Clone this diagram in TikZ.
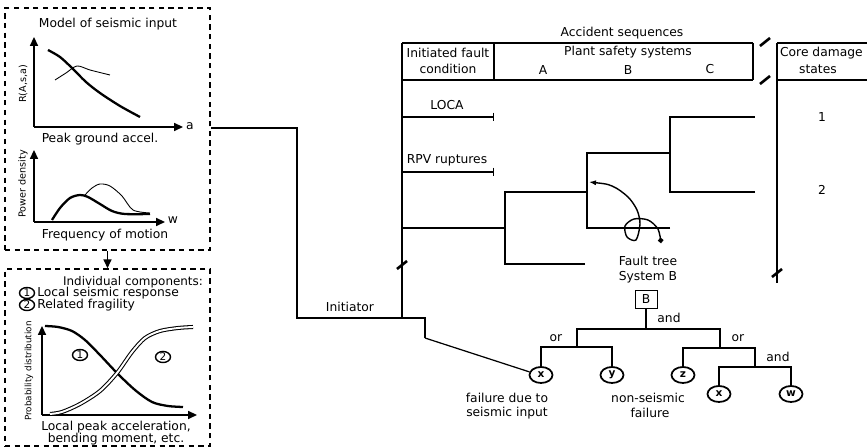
\documentclass[tikz,border=0pt]{standalone}
\usepackage{fontspec}
\setmainfont{DejaVu Sans}
\usetikzlibrary{arrows.meta,shapes.geometric}
\tikzset{brkmark/.pic={\draw[line width=1.5pt] (-5,4) -- (5,-4);}}
\begin{document}
\begin{tikzpicture}[x=0.02cm,y=-0.02cm,
    every node/.style={font=\fontsize{7}{8}\selectfont,inner sep=1pt},
    dbox/.style={draw,dash pattern=on 3pt off 2.5pt,line width=0.9pt,inner sep=0pt},
    axis/.style={line width=0.9pt,-{Triangle[length=5pt,width=4.5pt]}},
    resp/.style={line width=1.3pt},
    alt/.style={line width=0.5pt},
    ylab/.style={rotate=90,font=\fontsize{5.5}{6}\selectfont},
    num/.style={draw,ellipse,line width=0.8pt,inner sep=0pt,
        minimum width=0.3cm,minimum height=0.22cm,font=\fontsize{6}{6}\selectfont},
    evt/.style={draw,ellipse,line width=1pt,minimum width=0.46cm,
        minimum height=0.32cm,inner sep=0pt,font=\fontsize{6}{6}\selectfont\bfseries},
    gate/.style={draw,minimum width=0.44cm,minimum height=0.36cm,inner sep=0pt},
    tbl/.style={line width=0.7pt},
    tree/.style={line width=0.8pt}
]
    \useasboundingbox (0,0) rectangle (867,448);

    % seismic input box
    \node[dbox,minimum width=4.1cm,minimum height=4.84cm] (inbox) at (107.5,129) {};
    \node[dbox,minimum width=4.1cm,minimum height=3.54cm] (fragbox) at (107.5,357.5) {};
    \draw[line width=0.9pt,-{Triangle[length=5pt,width=4.5pt]}] (inbox.south) -- (fragbox.north);

    \node (tmodel) at (108,24) {Model of seismic input};
    \coordinate (o1) at (34,127);
    \draw[axis] (o1) -- (34,37);
    \draw[axis] (o1) -- (183,127);
    \node (la) at (190,126) {a};
    \node[ylab] (lr) at (23,84) {R(A,s,a)};
    \draw[resp] plot[smooth] coordinates {(48,50) (60,57) (72,68) (86,82) (100,93) (120,106) (140,117)};
    \draw[alt] plot[smooth] coordinates {(55,80) (66,73) (77,66) (90,70) (110,75)};
    \node (tpga) at (100,139) {Peak ground accel.};

    \coordinate (o2) at (34,222);
    \draw[axis] (o2) -- (34,150);
    \draw[axis] (o2) -- (165,222);
    \node (lw) at (173,220) {w};
    \node[ylab] (lp) at (23,184) {Power density};
    \draw[resp] plot[smooth] coordinates {(52,220) (60,208) (70,198) (80,195) (88,197) (100,204) (112,211) (125,214) (150,214)};
    \draw[alt] plot[smooth] coordinates {(85,195) (92,188) (100,184) (110,186) (122,196) (133,210) (150,213)};
    \node (tfreq) at (105,235) {Frequency of motion};

    % fragility box
    \node[font=\fontsize{6.8}{8}\selectfont] (tind) at (133,282) {Individual components:};
    \node[num] (c1) at (27,293) {1};
    \node[num] (c2) at (27,305) {2};
    \node[anchor=west] (tloc) at (c1.east) {Local seismic response};
    \node[anchor=west] (trel) at (c2.east) {Related fragility};
    \coordinate (o3) at (42,415);
    \draw[axis] (o3) -- (42,326);
    \draw[axis] (o3) -- (197,415);
    \node[ylab,font=\fontsize{5}{6}\selectfont] (lpd) at (29,371) {Probability distribution};
    \draw[resp] plot[smooth] coordinates {(45,326) (58,327) (72,331) (85,340) (100,355) (117,373) (135,390) (152,402) (168,406) (183,407)};
    \draw[line width=0.6pt,double,double distance=1.1pt] plot[smooth] coordinates {(50,414) (62,412) (80,404) (100,391) (117,373) (132,352) (145,338) (160,331) (178,328) (193,327)};
    \node[num] (k1) at (80,355) {1};
    \node[num] (k2) at (163,357) {2};
    \node (tlpa) at (116,427) {Local peak acceleration,};
    \node (tbend) at (116,439) {bending moment, etc.};

    % event tree table
    \node (tacc) at (622,33) {Accident sequences};
    \node (tinit) at (448,53) {Initiated fault};
    \node (tcond) at (448,69) {condition};
    \node (tpss) at (628,52) {Plant safety systems};
    \node (sa) at (543,70) {A};
    \node (sb) at (628,70) {B};
    \node (sc) at (710,69) {C};
    \node[anchor=west] (tcore) at (778,53) {Core damage};
    \node (tstat) at (818,69) {states};
    \node (tloca) at (447,105) {LOCA};
    \node (trpv) at (447,160) {RPV ruptures};
    \node (cd1) at (822,117) {1};
    \node (cd2) at (822,190) {2};

    \draw[tbl] (402,43) -- (753,43) (777,43) -- (867,43);
    \draw[tbl] (402,80) -- (753,80) (777,80) -- (867,80);
    \draw[tbl] (494,43) -- (494,80) (753,43) -- (753,80);
    \draw[tbl] (777,43) -- (777,283);
    \draw[tbl,-{Bar[width=5pt]}] (402,117) -- (494,117);
    \draw[tbl,-{Bar[width=5pt]}] (402,172) -- (494,172);
    \pic at (765,42) {brkmark};
    \pic at (765,80) {brkmark};
    \pic at (402,265) {brkmark};
    \pic at (777,273) {brkmark};

    \coordinate (e0) at (402,228);
    \coordinate (e1) at (505,228);
    \coordinate (e2) at (505,192);
    \coordinate (e3) at (585,264);
    \coordinate (e4) at (587,192);
    \coordinate (e5) at (587,153);
    \coordinate (e6) at (670,153);
    \coordinate (e7) at (670,228);
    \coordinate (e8) at (670,117);
    \coordinate (e9) at (755,117);
    \coordinate (e10) at (755,192);
    \draw[tbl] (e0) -- (e1);
    \draw[tbl] (e3) -| (e2) -- (e4);
    \draw[tbl] (e7) -| (e5) -- (e6);
    \draw[tbl] (e10) -| (e8) -- (e9);

    \draw[line width=0.8pt,{Latex[length=4pt]}-{Circle[length=3pt]}] plot[smooth] coordinates {(589,182) (612,186) (628,197) (637,210) (640,224) (636,240) (627,237) (625,226) (634,219) (648,220) (658,229) (661,243)};
    \node (tft) at (648,261) {Fault tree};
    \node (tsys) at (648,277) {System B};

    % initiator
    \coordinate (i0) at (297,128);
    \coordinate (i1) at (297,318);
    \coordinate (i2) at (425,318);
    \coordinate (i3) at (425,338);
    \coordinate (i4) at (402,43);
    \node (tinitr) at (350,307) {Initiator};
    \draw[tbl] (inbox.east |- i0) -- (i0) -- (i1) -- (i2) -- (i3);
    \draw[tbl] (i4) -- (402,318);

    % fault tree
    \node[gate] (topB) at (646,299) {B};
    \node[evt] (xs) at (541,375) {x};
    \node[evt] (ys) at (612,375) {y};
    \node[evt] (zs) at (683,375) {z};
    \node[evt] (xs2) at (719,394) {x};
    \node[evt] (ws) at (791,394) {w};
    \coordinate (g0) at (646,329);
    \coordinate (g1) at (577,347);
    \coordinate (g2) at (720,348);
    \coordinate (g3) at (755,367);
    \draw[tree] (topB.south) -- (g0);
    \draw[tree] (g1) |- (g0) -| (g2);
    \draw[tree] (xs) |- (g1) -| (ys);
    \draw[tree] (zs) |- (g2) -| (g3);
    \draw[tree] (xs2) |- (g3) -| (ws);
    \draw[tbl] (i3) -- (xs.165);
    \node (tand1) at (669,318) {and};
    \node (tor1) at (556,338) {or};
    \node (tor2) at (738,338) {or};
    \node (tand2) at (778,357) {and};
    \node (tfs1) at (507,398) {failure due to};
    \node (tfs2) at (507,413) {seismic input};
    \node (tns1) at (648,398) {non-seismic};
    \node (tns2) at (650,413) {failure};
\end{tikzpicture}
\end{document}
